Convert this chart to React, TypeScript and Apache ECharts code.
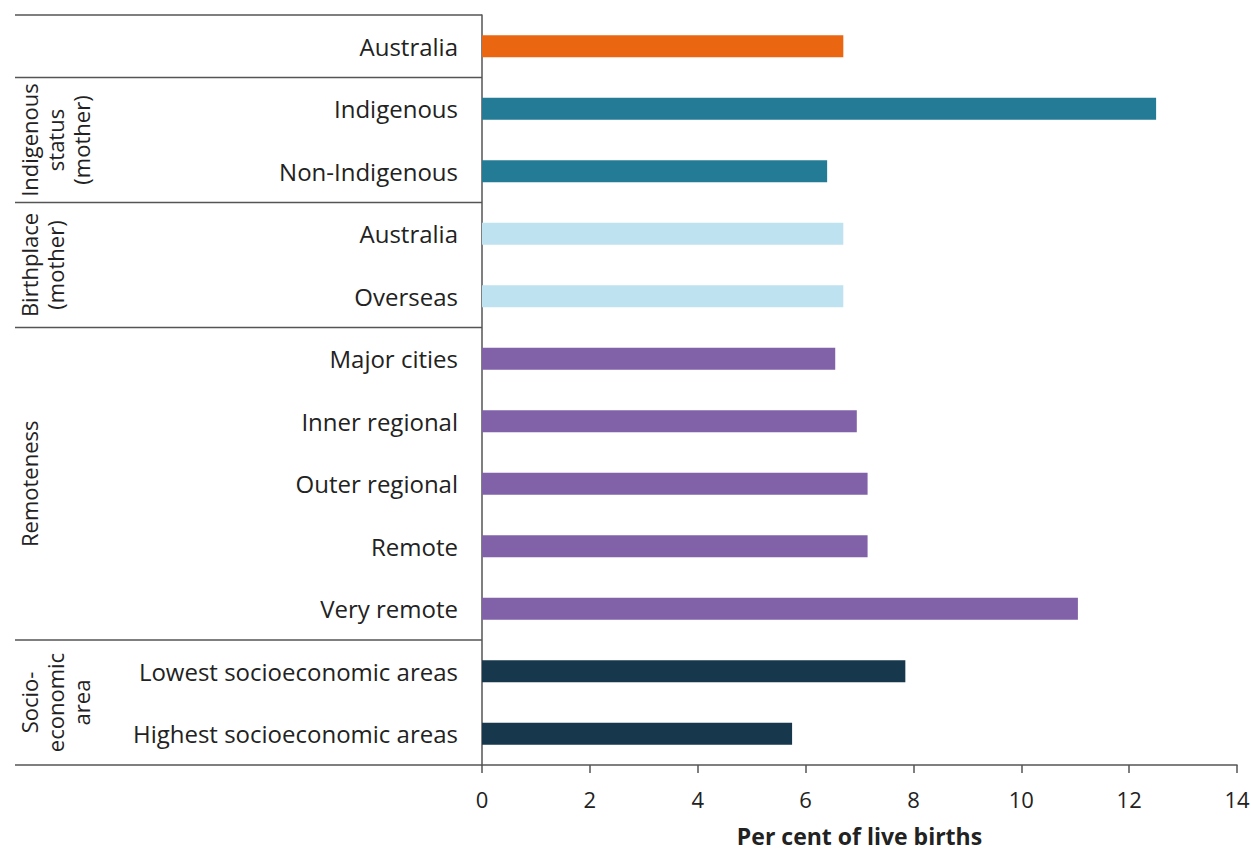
import React, { useEffect, useRef } from "react";
import * as echarts from "echarts";

const categories = [
  "Australia",
  "Indigenous",
  "Non-Indigenous",
  "Australia ",
  "Overseas",
  "Major cities",
  "Inner regional",
  "Outer regional",
  "Remote",
  "Very remote",
  "Lowest socioeconomic areas",
  "Highest socioeconomic areas",
];
const values = [6.7, 12.5, 6.4, 6.7, 6.7, 6.55, 6.95, 7.15, 7.15, 11.05, 7.85, 5.75];
const groupOf = [0, 1, 1, 2, 2, 3, 3, 3, 3, 3, 4, 4];
const groupColors = ["#EA6611", "#247B96", "#BEE2F0", "#8162A8", "#16374C"];
const groups = [
  { label: "", start: 0, end: 0 },
  { label: "Indigenous\nstatus\n(mother)", start: 1, end: 2 },
  { label: "Birthplace\n(mother)", start: 3, end: 4 },
  { label: "Remoteness", start: 5, end: 9 },
  { label: "Socio-\neconomic\narea", start: 10, end: 11 },
];
const xTicks = { min: 0, max: 14, interval: 2 };

const FONT = "'Open Sans', 'Noto Sans', sans-serif";
const LINE = "#555555";

export default function App() {
  const ref = useRef<HTMLDivElement>(null);
  useEffect(() => {
    const chart = echarts.init(ref.current!, undefined, { renderer: "svg" });
    chart.setOption({
      animation: false,
      textStyle: { fontFamily: FONT },
      grid: {
        left: 482,
        right: 14,
        top: 15,
        bottom: 87,
        containLabel: false,
        outerBoundsMode: "none",
      },
      xAxis: {
        type: "value",
        min: xTicks.min,
        max: xTicks.max,
        interval: xTicks.interval,
        axisLine: { show: true, lineStyle: { color: LINE, width: 1.5 } },
        axisTick: { show: true, length: 8, lineStyle: { color: LINE, width: 1.5 } },
        splitLine: { show: false },
        axisLabel: { fontSize: 22, color: "#222", margin: 23, fontFamily: FONT },
        name: "Per cent of live births",
        nameLocation: "middle",
        nameGap: 59,
        nameTextStyle: {
          fontSize: 23,
          lineHeight: 24,
          fontWeight: "bold",
          color: "#222",
          fontFamily: FONT,
        },
      },
      yAxis: {
        type: "category",
        inverse: true,
        data: categories,
        axisLine: { show: true, lineStyle: { color: LINE, width: 1.5 } },
        axisTick: { show: false },
        axisLabel: {
          fontSize: 24,
          color: "#222",
          margin: 24,
          fontFamily: FONT,
          formatter: (v: string) => v.trim(),
        },
      },
      series: [
        {
          type: "bar",
          barWidth: 22,
          data: values.map((v, i) => ({ value: v, itemStyle: { color: groupColors[groupOf[i]] } })),
        },
      ],
    });

    const yc = (i: number) => chart.convertToPixel({ yAxisIndex: 0 }, i) as number;
    const half = (yc(1) - yc(0)) / 2;
    const x0 = chart.convertToPixel({ xAxisIndex: 0 }, 0) as number;
    const graphic: any[] = [];
    const bounds = new Set<number>();
    groups.forEach((g) => {
      bounds.add(yc(g.start) - half);
      bounds.add(yc(g.end) + half);
    });
    bounds.forEach((y) => {
      graphic.push({
        type: "line",
        shape: { x1: 15, y1: y, x2: x0, y2: y },
        style: { stroke: LINE, lineWidth: 1.5 },
        silent: true,
      });
    });
    groups.forEach((g) => {
      if (!g.label) return;
      const cy = (yc(g.start) + yc(g.end)) / 2;
      graphic.push({
        type: "text",
        x: 16,
        y: cy,
        rotation: Math.PI / 2,
        style: {
          text: g.label,
          font: `22px ${FONT}`,
          fill: "#222",
          align: "center",
          verticalAlign: "top",
          lineHeight: 26,
        },
        silent: true,
      });
    });
    chart.setOption({ graphic });
    return () => chart.dispose();
  }, []);
  return <div ref={ref} style={{ width: 1251, height: 852, position: "absolute", left: 0, top: 0 }} />;
}
